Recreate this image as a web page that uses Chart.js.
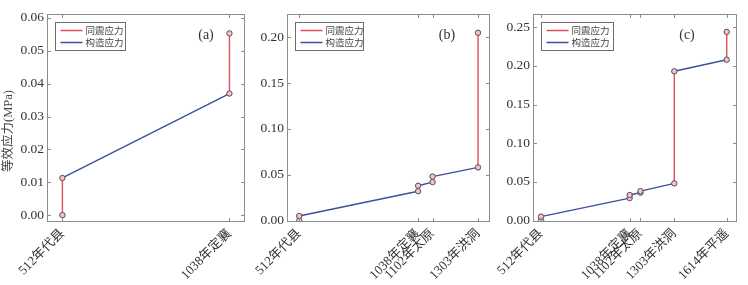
<!DOCTYPE html>
<html>
<head>
<meta charset="utf-8">
<script src="https://cdn.jsdelivr.net/npm/chart.js@4.4.0/dist/chart.umd.min.js"></script>
<style>
  body { margin: 0; background: #fff; width: 748px; height: 285px; position: relative; overflow: hidden; }
  canvas { position: absolute; top: 0; }
</style>
</head>
<body>
<canvas id="chartA" width="250" height="285" style="left:0px"></canvas>
<canvas id="chartB" width="250" height="285" style="left:245px"></canvas>
<canvas id="chartC" width="253" height="285" style="left:495px"></canvas>
<script>
// 地震年份与名称
const eqYears = [512, 1038, 1102, 1303, 1614];
const eqNames = ['512年代县', '1038年定襄', '1102年太原', '1303年洪洞', '1614年平遥'];

// 震前(构造累积)与震后(同震跳变)的等效应力 MPa
const beforeA = [0, 0.037];
const afterA = [0.0113, 0.0553];
const beforeB = [0, 0.032, 0.042, 0.058];
const afterB = [0.005, 0.038, 0.048, 0.205];
const beforeC = [0, 0.029, 0.036, 0.048, 0.208];
const afterC = [0.005, 0.033, 0.038, 0.193, 0.244];

// y轴刻度
const yTicksA = [0, 0.01, 0.02, 0.03, 0.04, 0.05, 0.06];
const yTicksB = [0, 0.05, 0.10, 0.15, 0.20];
const yTicksC = [0, 0.05, 0.10, 0.15, 0.20, 0.25];

const RED = '#e0505c';
const BLUE = '#3d4f9e';
const SERIF = '"Liberation Serif", "Times New Roman", "Noto Sans CJK SC", serif';

function coseismic(before, after) {
  const pts = [];
  for (let i = 0; i < before.length; i++) {
    pts.push({x: eqYears[i], y: before[i]}, {x: eqYears[i], y: after[i]}, {x: eqYears[i], y: null});
  }
  return pts;
}
function tectonic(before, after) {
  const pts = [];
  for (let i = 0; i < before.length - 1; i++) {
    pts.push({x: eqYears[i], y: after[i]}, {x: eqYears[i + 1], y: before[i + 1]}, {x: eqYears[i + 1], y: null});
  }
  return pts;
}
function markers(before, after) {
  const pts = [];
  for (let i = 0; i < before.length; i++) {
    pts.push({x: eqYears[i], y: before[i]}, {x: eqYears[i], y: after[i]});
  }
  return pts;
}

// 边框、内向刻度、图例、面板编号
const decor = {
  id: 'decor',
  afterDraw(chart, args, opts) {
    const {ctx, chartArea: a, scales: {x, y}} = chart;
    ctx.save();
    ctx.strokeStyle = '#8c8c8c';
    ctx.lineWidth = 1;
    ctx.strokeRect(Math.round(a.left) + 0.5, Math.round(a.top) + 0.5,
                   Math.round(a.width) - 1, Math.round(a.height) - 1);
    ctx.beginPath();
    y.ticks.forEach(t => {
      const py = Math.round(y.getPixelForValue(t.value)) + 0.5;
      ctx.moveTo(a.left, py); ctx.lineTo(a.left + 4, py);
      ctx.moveTo(a.right, py); ctx.lineTo(a.right - 4, py);
    });
    x.ticks.forEach(t => {
      const px = Math.round(x.getPixelForValue(t.value)) + 0.5;
      ctx.moveTo(px, a.bottom); ctx.lineTo(px, a.bottom - 4);
      ctx.moveTo(px, a.top); ctx.lineTo(px, a.top + 4);
    });
    ctx.stroke();

    // 图例
    const bx = Math.round(a.left) + 8.5, by = 22.5;
    ctx.strokeStyle = '#6e6e6e';
    ctx.fillStyle = '#fff';
    ctx.fillRect(bx, by, opts.boxW, 28);
    ctx.strokeRect(bx, by, opts.boxW, 28);
    const items = [chart.data.datasets[2], chart.data.datasets[1]];
    items.forEach((ds, i) => {
      const ly = 30.5 + i * 12;
      ctx.strokeStyle = ds.borderColor;
      ctx.lineWidth = 1.5;
      ctx.beginPath();
      ctx.moveTo(bx + 5, ly); ctx.lineTo(bx + 27, ly);
      ctx.stroke();
      ctx.fillStyle = '#444';
      ctx.font = '9.5px "Noto Sans CJK SC", sans-serif';
      ctx.textBaseline = 'middle';
      ctx.textAlign = 'left';
      ctx.fillText(ds.label, bx + 30, ly);
    });

    ctx.fillStyle = '#333';
    ctx.font = '14px ' + SERIF;
    ctx.textAlign = 'center';
    ctx.textBaseline = 'middle';
    ctx.fillText(opts.tag, a.right - opts.tagDx, 35);

    // y轴标题
    if (opts.yTitle) {
      ctx.save();
      ctx.translate(8.5, 131);
      ctx.rotate(-Math.PI / 2);
      ctx.fillStyle = '#444';
      ctx.font = '12.5px ' + SERIF;
      ctx.fillText(opts.yTitle, 0, 0);
      ctx.restore();
    }
    ctx.restore();
  }
};

function makeChart(id, before, after, yTicks, xr, yr, yWidth, padRight, tag, tagDx, boxW, yTitle) {
  const n = before.length;
  return new Chart(document.getElementById(id), {
    type: 'line',
    data: {
      datasets: [
        {
          label: 'markers', data: markers(before, after), showLine: false,
          pointRadius: 2.7, pointBorderWidth: 1, pointBorderColor: '#5a4a50',
          pointBackgroundColor: '#f2c4cc'
        },
        {
          label: '构造应力', data: tectonic(before, after), borderColor: BLUE,
          borderWidth: 1.4, pointRadius: 0, spanGaps: false
        },
        {
          label: '同震应力', data: coseismic(before, after), borderColor: RED,
          borderWidth: 1.4, pointRadius: 0, spanGaps: false
        }
      ]
    },
    options: {
      responsive: false,
      animation: false,
      layout: {padding: {top: 14, right: padRight, left: 0, bottom: 0}},
      plugins: {
        legend: {display: false},
        tooltip: {enabled: false},
        decor: {tag: tag, tagDx: tagDx, boxW: boxW, yTitle: yTitle}
      },
      scales: {
        x: {
          type: 'linear', min: xr[0], max: xr[1],
          grid: {display: false, drawTicks: false}, border: {display: false},
          afterBuildTicks: s => { s.ticks = eqYears.slice(0, n).map(v => ({value: v})); },
          afterFit: s => { s.height = 63; s.paddingLeft = 0; s.paddingRight = 0; },
          ticks: {
            autoSkip: false, minRotation: 45, maxRotation: 45, padding: 4,
            color: '#333', font: {family: SERIF, size: 13},
            callback: v => eqNames[eqYears.indexOf(v)]
          }
        },
        y: {
          min: yr[0], max: yr[1],
          grid: {display: false, drawTicks: false}, border: {display: false},
          afterBuildTicks: s => { s.ticks = yTicks.map(v => ({value: v})); },
          afterFit: s => { s.width = yWidth; s.paddingTop = 0; s.paddingBottom = 0; },
          ticks: {
            padding: 3, color: '#333', font: {family: SERIF, size: 13.5},
            callback: v => v.toFixed(2)
          }
        }
      }
    },
    plugins: [decor]
  });
}

makeChart('chartA', beforeA, afterA, yTicksA, [463.5, 1087], [-0.0021, 0.0612], 47, 2, '(a)', 39, 70, '等效应力(MPa)');
makeChart('chartB', beforeB, afterB, yTicksB, [458, 1356], [-0.0016, 0.2255], 42, 4, '(b)', 43, 68, '');
makeChart('chartC', beforeC, afterC, yTicksC, [464.5, 1675], [-0.0019, 0.2671], 38, 11, '(c)', 50, 72, '');
</script>
</body>
</html>
